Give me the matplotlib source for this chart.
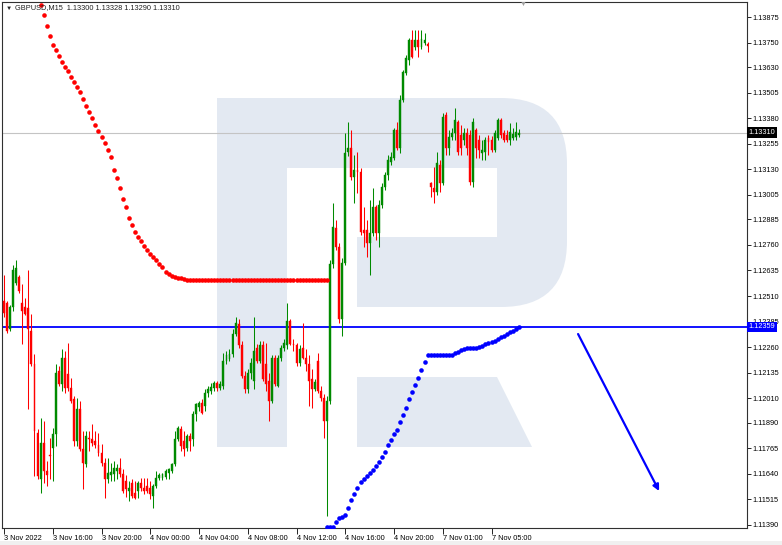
import matplotlib
matplotlib.use('Agg')
import matplotlib.pyplot as plt
import matplotlib.transforms as mtransforms
from matplotlib.patches import Rectangle, FancyBboxPatch, Polygon
import numpy as np

plt.rcParams['font.family'] = ['Liberation Sans', 'DejaVu Sans']

# GBPUSD M15 candles, one entry per bar (bar 0 = 3 Nov 12:00)
opens = [
    1.12488, 1.12478, 1.12351, 1.12454, 1.12576, 1.12601, 1.12478, 1.12454, 1.12449, 1.12341,
    1.12179, 1.11841, 1.11616, 1.11792, 1.11655, 1.11733, 1.11768, 1.11836, 1.12145, 1.12081,
    1.12209, 1.12130, 1.12062, 1.12008, 1.11802, 1.11959, 1.11763, 1.11689, 1.11817, 1.11812,
    1.11802, 1.11782, 1.11743, 1.11694, 1.11616, 1.11635, 1.11640, 1.11655, 1.11670, 1.11640,
    1.11606, 1.11557, 1.11596, 1.11547, 1.11557, 1.11596, 1.11572, 1.11582, 1.11572, 1.11533,
    1.11582, 1.11621, 1.11621, 1.11626, 1.11645, 1.11655, 1.11689, 1.11812, 1.11861, 1.11802,
    1.11768, 1.11827, 1.11812, 1.11934, 1.11969, 1.11988, 1.11974, 1.12037, 1.12047, 1.12062,
    1.12086, 1.12062, 1.12072, 1.12194, 1.12204, 1.12228, 1.12326, 1.12375, 1.12268, 1.12121,
    1.12057, 1.12135, 1.12096, 1.12258, 1.12194, 1.12268, 1.12179, 1.12096, 1.11998, 1.12209,
    1.12072, 1.12209, 1.12258, 1.12268, 1.12390, 1.12277, 1.12268, 1.12184, 1.12258, 1.12209,
    1.12179, 1.12106, 1.12057, 1.12194, 1.12047, 1.12013, 1.11900, 1.11998, 1.12669, 1.12841,
    1.12748, 1.12400, 1.12674, 1.13213, 1.13233, 1.13091, 1.13125, 1.13115, 1.12831, 1.12831,
    1.12767, 1.12816, 1.12944, 1.12816, 1.12954, 1.13042, 1.13101, 1.13164, 1.13184, 1.13321,
    1.13233, 1.13468, 1.13600, 1.13664, 1.13762, 1.13728, 1.13762, 1.13728, 1.13747, 1.13742,
    1.13061, 1.13037, 1.13017, 1.13150, 1.13061, 1.13394, 1.13233, 1.13287, 1.13306, 1.13360,
    1.13296, 1.13272, 1.13306, 1.13296, 1.13066, 1.13321, 1.13272, 1.13208, 1.13213, 1.13282,
    1.13272, 1.13223, 1.13282, 1.13370, 1.13306, 1.13296, 1.13272, 1.13282, 1.13287, 1.13300,
]
highs = [
    1.12611, 1.12488, 1.12464, 1.12660, 1.12684, 1.12615, 1.12571, 1.12498, 1.12635, 1.12424,
    1.12228, 1.11861, 1.11915, 1.11900, 1.11704, 1.11817, 1.11866, 1.12179, 1.12170, 1.12253,
    1.12243, 1.12282, 1.12111, 1.12023, 1.12013, 1.11998, 1.11851, 1.11851, 1.11851, 1.11885,
    1.11851, 1.11841, 1.11787, 1.11719, 1.11719, 1.11694, 1.11704, 1.11689, 1.11719, 1.11665,
    1.11635, 1.11606, 1.11616, 1.11606, 1.11606, 1.11621, 1.11621, 1.11621, 1.11606, 1.11591,
    1.11655, 1.11645, 1.11645, 1.11665, 1.11670, 1.11694, 1.11851, 1.11876, 1.11876, 1.11851,
    1.11836, 1.11841, 1.11949, 1.11988, 1.11998, 1.12008, 1.12057, 1.12072, 1.12086, 1.12096,
    1.12096, 1.12096, 1.12233, 1.12243, 1.12253, 1.12351, 1.12405, 1.12400, 1.12292, 1.12145,
    1.12155, 1.12209, 1.12405, 1.12277, 1.12292, 1.12292, 1.12282, 1.12135, 1.12219, 1.12219,
    1.12219, 1.12268, 1.12302, 1.12478, 1.12400, 1.12302, 1.12282, 1.12268, 1.12380, 1.12253,
    1.12219, 1.12155, 1.12106, 1.12233, 1.12072, 1.12032, 1.12023, 1.12684, 1.12963, 1.12880,
    1.12767, 1.12694, 1.13306, 1.13360, 1.13321, 1.13198, 1.13213, 1.13135, 1.12944, 1.12880,
    1.12978, 1.13037, 1.12954, 1.12978, 1.13061, 1.13115, 1.13198, 1.13213, 1.13331, 1.13360,
    1.13492, 1.13615, 1.13688, 1.13772, 1.13811, 1.13811, 1.13811, 1.13811, 1.13796, 1.13752,
    1.13066, 1.13140, 1.13213, 1.13174, 1.13404, 1.13409, 1.13321, 1.13331, 1.13429, 1.13370,
    1.13345, 1.13331, 1.13331, 1.13321, 1.13380, 1.13331, 1.13296, 1.13272, 1.13287, 1.13296,
    1.13292, 1.13321, 1.13380, 1.13380, 1.13321, 1.13321, 1.13355, 1.13331, 1.13360, 1.13328,
]
lows = [
    1.12405, 1.12331, 1.12341, 1.12439, 1.12562, 1.12527, 1.12277, 1.12415, 1.11959, 1.12170,
    1.11631, 1.11616, 1.11547, 1.11596, 1.11582, 1.11616, 1.11606, 1.11778, 1.12072, 1.12047,
    1.12037, 1.12047, 1.11988, 1.11778, 1.11778, 1.11753, 1.11567, 1.11675, 1.11753, 1.11778,
    1.11768, 1.11729, 1.11680, 1.11523, 1.11596, 1.11606, 1.11606, 1.11616, 1.11626, 1.11547,
    1.11528, 1.11508, 1.11523, 1.11518, 1.11523, 1.11557, 1.11542, 1.11547, 1.11518, 1.11474,
    1.11572, 1.11611, 1.11611, 1.11616, 1.11616, 1.11645, 1.11680, 1.11802, 1.11753, 1.11729,
    1.11753, 1.11753, 1.11778, 1.11900, 1.11949, 1.11934, 1.11949, 1.12018, 1.12032, 1.12047,
    1.12047, 1.12052, 1.12057, 1.12179, 1.12194, 1.12214, 1.12312, 1.12258, 1.12111, 1.12037,
    1.12037, 1.12106, 1.12057, 1.12184, 1.12184, 1.12096, 1.12047, 1.11900, 1.11988, 1.12072,
    1.12067, 1.12194, 1.12243, 1.12253, 1.12268, 1.12243, 1.12170, 1.12170, 1.12204, 1.12145,
    1.11974, 1.11964, 1.12047, 1.12037, 1.11998, 1.11817, 1.11435, 1.11983, 1.12645, 1.12733,
    1.12380, 1.12312, 1.12664, 1.13194, 1.13076, 1.12963, 1.13012, 1.12807, 1.12748, 1.12699,
    1.12611, 1.12802, 1.12782, 1.12748, 1.12939, 1.13027, 1.13076, 1.13150, 1.13174, 1.13223,
    1.13208, 1.13458, 1.13590, 1.13640, 1.13674, 1.13713, 1.13679, 1.13718, 1.13737, 1.13703,
    1.12993, 1.12963, 1.13003, 1.13017, 1.13052, 1.13198, 1.13198, 1.13272, 1.13272, 1.13198,
    1.13198, 1.13248, 1.13198, 1.13052, 1.13042, 1.13184, 1.13184, 1.13174, 1.13174, 1.13198,
    1.13213, 1.13213, 1.13272, 1.13282, 1.13262, 1.13262, 1.13248, 1.13272, 1.13272, 1.13290,
]
closes = [
    1.12429, 1.12341, 1.12454, 1.12635, 1.12645, 1.12537, 1.12439, 1.12424, 1.12351, 1.12179,
    1.11851, 1.11631, 1.11792, 1.11655, 1.11635, 1.11729, 1.11836, 1.12135, 1.12081, 1.12209,
    1.12062, 1.12062, 1.11998, 1.11802, 1.11959, 1.11763, 1.11694, 1.11827, 1.11812, 1.11792,
    1.11782, 1.11743, 1.11694, 1.11616, 1.11645, 1.11650, 1.11670, 1.11670, 1.11640, 1.11557,
    1.11567, 1.11572, 1.11533, 1.11523, 1.11596, 1.11572, 1.11557, 1.11557, 1.11542, 1.11582,
    1.11621, 1.11635, 1.11640, 1.11655, 1.11665, 1.11689, 1.11812, 1.11866, 1.11778, 1.11763,
    1.11827, 1.11802, 1.11934, 1.11983, 1.11988, 1.11939, 1.12037, 1.12057, 1.12067, 1.12086,
    1.12062, 1.12081, 1.12194, 1.12219, 1.12228, 1.12326, 1.12380, 1.12268, 1.12121, 1.12057,
    1.12135, 1.12184, 1.12243, 1.12194, 1.12268, 1.12106, 1.12081, 1.11998, 1.12209, 1.12081,
    1.12209, 1.12258, 1.12282, 1.12390, 1.12277, 1.12268, 1.12184, 1.12253, 1.12209, 1.12179,
    1.12096, 1.12057, 1.12091, 1.12047, 1.12013, 1.11900, 1.11998, 1.12669, 1.12846, 1.12748,
    1.12400, 1.12674, 1.13208, 1.13233, 1.13091, 1.13125, 1.13115, 1.12821, 1.12816, 1.12767,
    1.12816, 1.12944, 1.12816, 1.12954, 1.13042, 1.13101, 1.13174, 1.13189, 1.13321, 1.13233,
    1.13468, 1.13605, 1.13674, 1.13762, 1.13679, 1.13762, 1.13728, 1.13767, 1.13762, 1.13733,
    1.13042, 1.13017, 1.13159, 1.13061, 1.13385, 1.13233, 1.13287, 1.13306, 1.13370, 1.13213,
    1.13233, 1.13306, 1.13233, 1.13066, 1.13360, 1.13233, 1.13223, 1.13223, 1.13272, 1.13262,
    1.13223, 1.13306, 1.13370, 1.13296, 1.13272, 1.13272, 1.13311, 1.13301, 1.13311, 1.13310,
]

# red trailing dots (bars 12..106) and blue dots (bars 106..169)
red_start = 12
red_dots = [
    1.13934, 1.13885, 1.13832, 1.13782, 1.13737, 1.13714, 1.13684, 1.13656, 1.13632, 1.13612,
    1.13581, 1.13557, 1.13531, 1.13507, 1.13475, 1.13441, 1.13410, 1.13379, 1.13347, 1.13317,
    1.13288, 1.13257, 1.13223, 1.13190, 1.13125, 1.13089, 1.13040, 1.12983, 1.12944, 1.12890,
    1.12857, 1.12825, 1.12800, 1.12778, 1.12756, 1.12735, 1.12716, 1.12699, 1.12685, 1.12668,
    1.12651, 1.12629, 1.12616, 1.12607, 1.12602, 1.12600, 1.12598, 1.12595, 1.12590,
] + [1.12588] * 46
blue_start = 106
blue_dots = [
    1.11378, 1.11378, 1.11378, 1.11405, 1.11424, 1.11429, 1.11439, 1.11473, 1.11512, 1.11541,
    1.11571, 1.11600, 1.11615, 1.11630, 1.11644, 1.11659, 1.11678, 1.11698, 1.11722, 1.11747,
    1.11781, 1.11806, 1.11835, 1.11855, 1.11894, 1.11928, 1.11962, 1.12006, 1.12041, 1.12075,
    1.12109, 1.12148, 1.12187, 1.12222,
] + [1.12222] * 8 + [
    1.12230, 1.12238, 1.12246, 1.12252, 1.12257, 1.12257, 1.12257, 1.12257, 1.12259, 1.12267,
    1.12274, 1.12282, 1.12287, 1.12292, 1.12300, 1.12308, 1.12316, 1.12324, 1.12333, 1.12341,
    1.12349, 1.12356,
]

bid_price = 1.13310
level_price = 1.12359
arrow_from = (188.4, 1.12324)
arrow_to = (215.0, 1.11556)

ytick_vals = [1.13875, 1.13750, 1.13630, 1.13505, 1.13380, 1.13255, 1.13130, 1.13005,
              1.12885, 1.12760, 1.12635, 1.12510, 1.12385, 1.12260, 1.12135, 1.12010,
              1.11890, 1.11765, 1.11640, 1.11515, 1.11390]
xtick_idx = [0, 16, 32, 48, 64, 80, 96, 112, 128, 144, 160]
xtick_labels = ['3 Nov 2022', '3 Nov 16:00', '3 Nov 20:00', '4 Nov 00:00', '4 Nov 04:00',
                '4 Nov 08:00', '4 Nov 12:00', '4 Nov 16:00', '4 Nov 20:00', '7 Nov 01:00',
                '7 Nov 05:00']

opens = np.array(opens)
highs = np.array(highs)
lows = np.array(lows)
closes = np.array(closes)
idx = np.arange(len(opens))

fig = plt.figure(figsize=(7.82, 5.45), dpi=100)

# watermark logo behind the chart, in pixel units
bg = fig.add_axes([0, 0, 1, 1], zorder=0)
bg.set_xlim(0, 782)
bg.set_ylim(545, 0)
bg.axis('off')
logo = '#e3e9f2'
bg.add_patch(FancyBboxPatch((330, 98), 237, 209, boxstyle='round,pad=0,rounding_size=66',
                            fc=logo, ec='none'))
bg.add_patch(Rectangle((217, 98), 200, 209, fc=logo, ec='none'))
bg.add_patch(Rectangle((217, 98), 70, 349, fc=logo, ec='none'))
bg.add_patch(Rectangle((287, 168), 210, 69, fc='white', ec='none'))
bg.add_patch(Rectangle((287, 237), 70, 70, fc='white', ec='none'))
bg.add_patch(Polygon([(357, 377), (497, 377), (532, 447), (357, 447)], fc=logo, ec='none'))
bg.add_patch(Rectangle((0, 541), 782, 4, fc='#f0f0f0', ec='none'))

ax = fig.add_axes([2 / 782, 17 / 545, 745 / 782, 526.5 / 545], zorder=1)
ax.set_facecolor('none')
ax.set_xlim(-0.66, 243.84)
ax.set_ylim(1.11375, 1.13951)

ax.axhline(bid_price, color='#c4c4c4', lw=0.8, zorder=2)
ax.axhline(level_price, color='#0000ff', lw=1.3, zorder=2)

up = closes >= opens
cols = np.where(up, '#008a00', '#ff0000')
ax.vlines(idx, lows, highs, colors=cols, lw=0.75, zorder=3)
ax.bar(idx, np.abs(closes - opens), bottom=np.minimum(opens, closes), width=0.62,
       color=cols, edgecolor=cols, linewidth=0.3, zorder=4)

ax.plot(np.arange(len(red_dots)) + red_start, red_dots, 'o', color='#ff0000',
        ms=3.3, mew=0, zorder=5)
ax.plot(np.arange(len(blue_dots)) + blue_start, blue_dots, 'o', color='#0000ff',
        ms=3.3, mew=0, zorder=5)

ax.annotate('', xy=arrow_to, xytext=arrow_from,
            arrowprops=dict(arrowstyle='-|>', color='#0000ff', lw=1.6,
                            mutation_scale=9, shrinkA=0, shrinkB=0), zorder=6)

ax.yaxis.tick_right()
ax.set_yticks(ytick_vals)
ax.set_yticklabels([f'{v:.5f}' for v in ytick_vals])
ax.tick_params(axis='y', length=3, width=0.6, pad=1, labelsize=5.3)
ax.set_xticks(xtick_idx)
ax.set_xticklabels(xtick_labels, ha='left')
ax.tick_params(axis='x', length=4, width=0.6, pad=1, labelsize=5.3)
for s in ax.spines.values():
    s.set_linewidth(0.8)
    s.set_color('#303030')

trans = mtransforms.blended_transform_factory(ax.transAxes, ax.transData)
ax.text(1.002, bid_price, f'{bid_price:.5f}', transform=trans, ha='left', va='center',
        fontsize=5.3, color='white', zorder=10, clip_on=False,
        bbox=dict(boxstyle='square,pad=0.25', fc='black', ec='none'))
ax.text(1.002, level_price, f'{level_price:.5f}', transform=trans, ha='left', va='center',
        fontsize=5.3, color='white', zorder=10, clip_on=False,
        bbox=dict(boxstyle='square,pad=0.25', fc='#0000ff', ec='none'))

fig.text(6 / 782, 1 - 8 / 545, '\u25bc', fontsize=4.5, va='center', color='#202020')
fig.text(15 / 782, 1 - 8 / 545, 'GBPUSD,M15  1.13300 1.13328 1.13290 1.13310',
         fontsize=5.3, va='center', color='#202020')
fig.text(520 / 782, 1 - 4 / 545, '\u25bc', fontsize=5, va='center', color='#a0a0a0')

fig.savefig('out.png', dpi=100)
